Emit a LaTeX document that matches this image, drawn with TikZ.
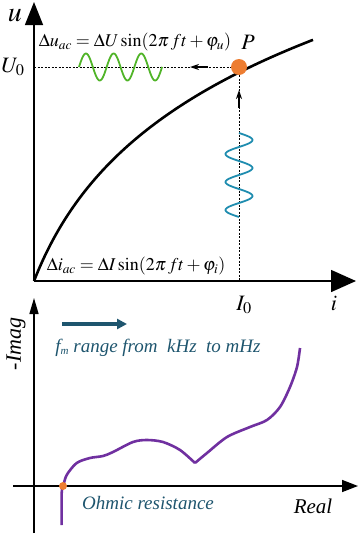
\documentclass[tikz,border=0pt]{standalone}
\usepackage{mathptmx}
\usepackage[no-math]{fontspec}
\setmainfont{Liberation Serif}
\usetikzlibrary{arrows.meta,calc,positioning}
\definecolor{dotorange}{RGB}{237,125,49}
\definecolor{wavegreen}{RGB}{80,180,40}
\definecolor{waveblue}{RGB}{30,140,175}
\definecolor{curvepurple}{RGB}{112,48,160}
\definecolor{textteal}{RGB}{30,85,110}
\tikzset{axis/.style={line width=1.5pt},
  dashline/.style={line width=1pt,dash pattern=on 2pt off 1.5pt},
  wave/.style={line width=1.8pt},
  smallarr/.style={line width=1.2pt,-{Stealth[length=9pt,width=6pt,fill=gray]}},
  pdot/.style={circle,fill=dotorange,inner sep=0pt,minimum size=16pt},
  odot/.style={circle,fill=dotorange,inner sep=0pt,minimum size=8pt},
  biglbl/.style={inner sep=0pt,font=\fontsize{22}{24}\selectfont},
  eqlbl/.style={inner sep=0pt,font=\fontsize{18}{20}\selectfont},
  tealtext/.style={inner sep=0pt,text=textteal,font=\fontsize{19}{21}\selectfont\itshape}}

\begin{document}
\begin{tikzpicture}[x=1pt,y=-1pt,>=stealth]
\useasboundingbox (0,0) rectangle (361,536);
% u-i curve
\coordinate (O) at (34,281);
\coordinate (utip) at (34,2);
\coordinate (itip) at (356,281);
\draw[axis,-{Triangle[length=23pt,width=18pt]}] (O) -- (utip);
\draw[axis,-{Triangle[length=25pt,width=22pt]}] (O) -- (itip);
\draw[line width=2.6pt] plot[domain=0:279,samples=100] ({34+\x},{281-128*ln(1+\x/50)});
\node[pdot] (P) at (239,67) {};
\coordinate (U0pt) at (34,67);
\coordinate (I0pt) at (239,281);
\draw[dashline] (U0pt) -- (P);
\draw[dashline] (P) -- (I0pt);
\coordinate (ha) at (208,67);
\coordinate (hb) at (190,67);
\coordinate (va) at (239,108);
\coordinate (vb) at (239,90);
\draw[smallarr] (ha) -- (hb);
\draw[smallarr] (va) -- (vb);
\draw[wave,wavegreen] plot[domain=0:83.1,samples=120] ({79+\x},{67-13.5*sin(13*\x)});
\draw[wave,waveblue] plot[domain=0:84,samples=120] ({239+13.5*sin(12.857*\x)},{133+\x});
\node[inner sep=0pt,font=\fontsize{28}{30}\selectfont] (ulbl) at (15,16) {$u$};
\node[biglbl] (U0) at (13,67) {$U_0$};
\node[biglbl] (Plbl) at (248,42) {$P$};
\node[biglbl] (ilbl) at (334,303) {$i$};
\node[biglbl] (I0) at (244,305) {$I_0$};
\node[eqlbl] (eqU) at (135,42) {$\Delta u_{ac}=\Delta U\sin(2\pi\,ft+\varphi_u)$};
\node[eqlbl] (eqI) at (136,266) {$\Delta i_{ac}=\Delta I\sin(2\pi\,ft+\varphi_i)$};
% impedance plot
\coordinate (Ibot) at (34,533);
\coordinate (Itop) at (34,298);
\coordinate (Rl) at (13,486);
\coordinate (Rr) at (358,486);
\draw[axis,-{Triangle[length=16pt,width=9pt]}] (Ibot) -- (Itop);
\draw[axis,-{Triangle[length=16pt,width=12pt]}] (Rl) -- (Rr);
\node[inner sep=0pt,rotate=90,font=\fontsize{22}{24}\selectfont\itshape] (imag) at (16,344) {-Imag};
\coordinate (fa) at (62,324);
\coordinate (fb) at (127,324);
\draw[textteal,line width=3.2pt,-{Triangle[length=10pt,width=10pt]}] (fa) -- (fb);
\node[tealtext] (range) at (158,348) {f\raisebox{-2pt}{\fontsize{11}{12}\selectfont m} range from\ \ kHz\ \ to mHz};
\node[tealtext] (ohm) at (148,503) {Ohmic resistance};
\node[inner sep=0pt,font=\fontsize{21}{23}\selectfont\itshape] (real) at (313,506) {Real};
\draw[curvepurple,line width=2.6pt,line join=round] plot[smooth] coordinates {(61.7,525) (61.7,493) (63.3,486) (66.7,475) (76.7,463) (90,458) (103,456) (113,452) (133,442) (147,440) (163,442) (180,450) (195,463)}
  plot[smooth] coordinates {(195,463) (207,453) (227,437) (250,427) (267,420) (280,407) (290,387) (297,367) (300,348)};
\node[odot] (R0) at (63,486) {};
\end{tikzpicture}
\end{document}
